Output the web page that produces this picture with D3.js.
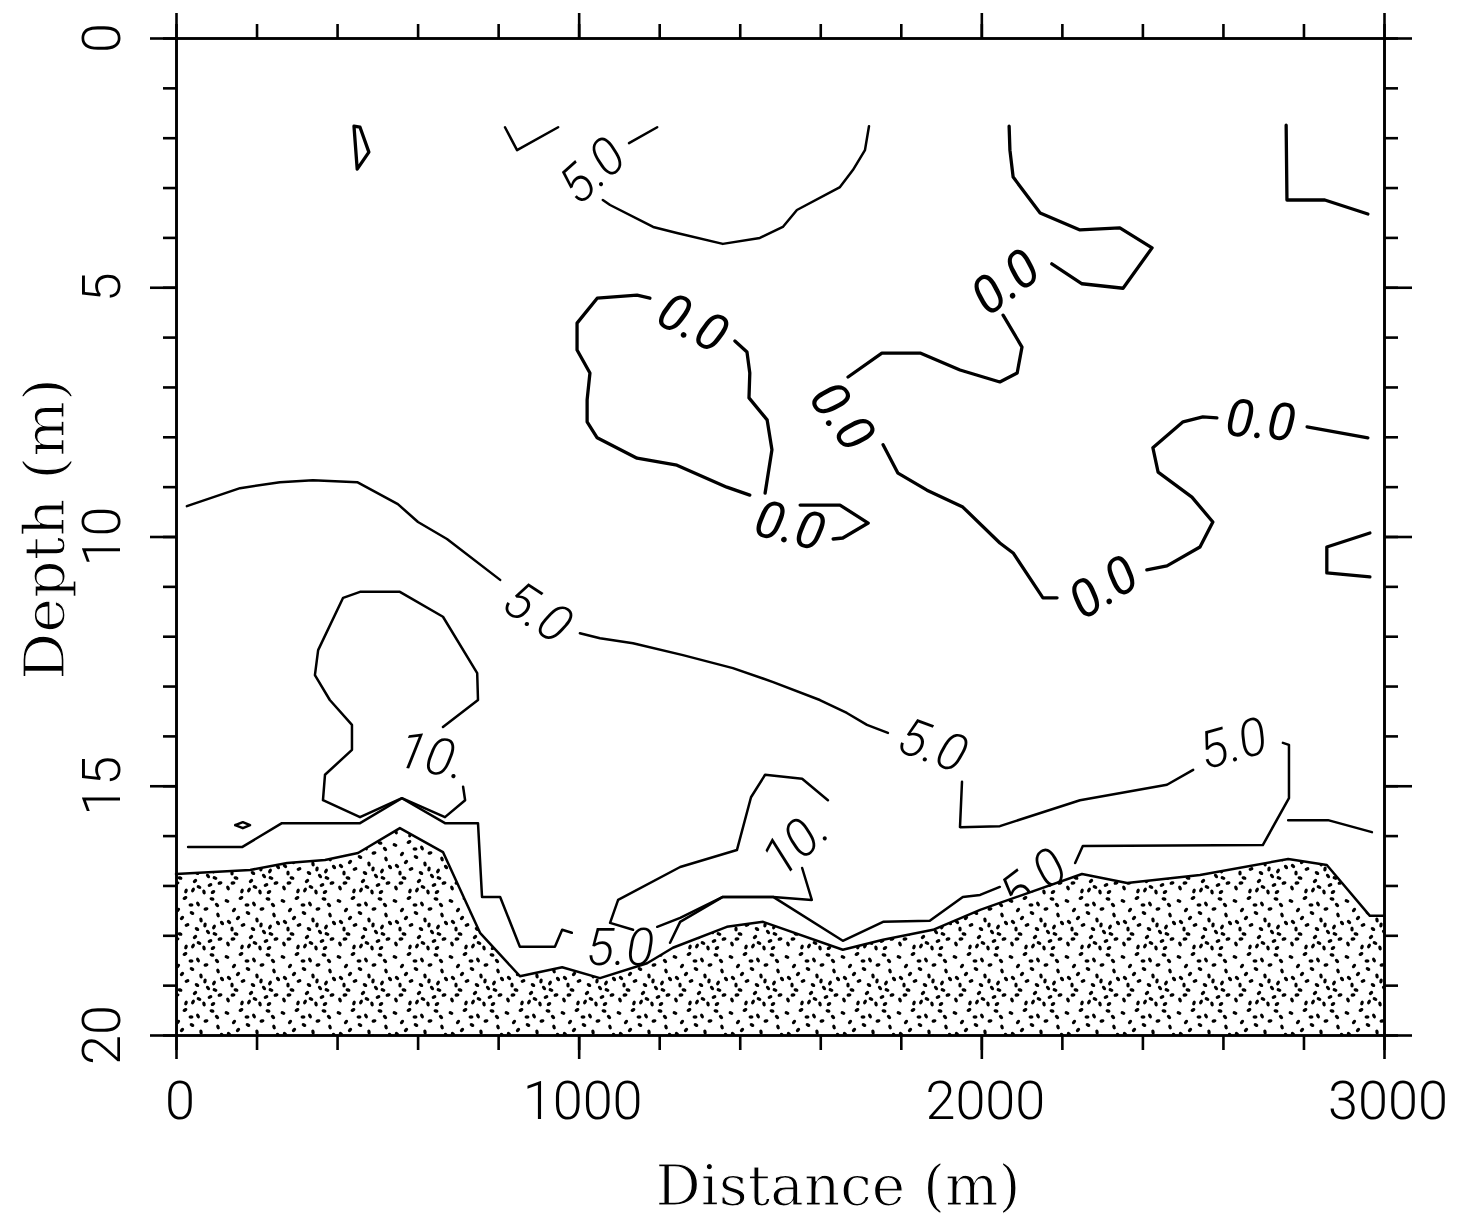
<!DOCTYPE html>
<html lang="en">
<head>
<meta charset="utf-8">
<title>Depth section</title>
<script src="https://d3js.org/d3.v7.min.js"></script>
<style>
body{margin:0;background:#fff;}
.axis path,.axis line{stroke:#000;stroke-width:2.6;}
.contour{fill:none;stroke:#000;stroke-linejoin:round;stroke-linecap:round;}
.tick-label{font-family:Roboto,"Liberation Sans",sans-serif;font-weight:300;font-size:54px;fill:#000;}
.title{font-family:"DejaVu Serif",serif;font-size:56px;fill:#000;stroke:#fff;stroke-width:1.2;}
.clabel{font-family:Roboto,"DejaVu Sans",sans-serif;font-style:italic;font-size:52px;fill:#000;}
</style>
</head>
<body>
<script>
// axis ticks
var xMajor = [0, 1000, 2000, 3000];
var xMinor = d3.range(0, 3001, 200);
var yMajor = [0, 5, 10, 15, 20];
var yMinor = d3.range(0, 21, 1);

// contour pieces, [distance (m), depth (m)]
var zeroLines = [
  [[442,1.77],[457,1.79],[479,2.29],[450,2.63],[442,1.77]],
  [[2069,1.77],[2071,2.25],[2079,2.79],[2146,3.51],[2245,3.85],[2344,3.81],[2424,4.21],[2352,5.02],[2250,4.93],[2175,4.53]],
  [[2054,5.56],[2101,6.20],[2089,6.72],[2046,6.90],[1947,6.66],[1848,6.32],[1753,6.32],[1669,6.80]],
  [[1756,8.16],[1793,8.73],[1865,9.07],[1954,9.41],[2046,10.13],[2079,10.33],[2153,11.23],[2188,11.23]],
  [[2411,10.67],[2461,10.59],[2543,10.21],[2575,9.71],[2523,9.21],[2439,8.71],[2426,8.22],[2501,7.70],[2550,7.60],[2585,7.62]],
  [[2809,7.80],[2960,8.02]],
  [[2757,1.75],[2759,3.25],[2853,3.25],[2960,3.53]],
  [[2965,9.93],[2858,10.21],[2858,10.73],[2965,10.81]],
  [[1177,5.22],[1145,5.16],[1046,5.22],[996,5.72],[996,6.26],[1028,6.72],[1021,7.26],[1021,7.70],[1046,8.02],[1145,8.43],[1244,8.57],[1368,9.01],[1425,9.17]],
  [[1388,6.08],[1418,6.30],[1425,6.72],[1423,7.22],[1468,7.66],[1480,8.26],[1463,9.13]],
  [[1550,9.37],[1649,9.37],[1719,9.73],[1656,10.03],[1632,10.05]]
];

var fiveLines = [
  [[817,1.79],[847,2.25],[949,1.79]],
  [[1195,1.79],[1125,2.11]],
  [[1060,3.25],[1078,3.35],[1185,3.79],[1244,3.91],[1358,4.13],[1450,4.01],[1507,3.79],[1542,3.45],[1649,2.99],[1681,2.65],[1711,2.25],[1721,1.77]],
  [[27,9.39],[159,9.03],[258,8.91],[340,8.87],[450,8.91],[551,9.35],[601,9.71],[673,10.05],[805,10.87]],
  [[1003,11.94],[1053,12.04],[1135,12.14],[1259,12.38],[1383,12.64],[1483,12.92],[1599,13.28],[1666,13.54],[1716,13.78],[1768,13.94]],
  [[1952,14.92],[1947,15.83],[2046,15.81],[2245,15.29],[2461,14.98],[2526,14.68]],
  [[2749,14.14],[2764,14.18],[2764,15.25],[2699,16.19],[2252,16.21],[2233,16.55]],
  [[2046,17.03],[1997,17.19],[1954,17.23],[1872,17.71],[1756,17.73],[1656,18.11],[1483,17.23],[1358,17.23],[1252,17.73],[1227,18.15]],
  [[983,17.95],[959,17.89],[941,18.23],[854,18.23],[805,17.23],[760,17.23],[750,15.75],[668,15.75],[561,15.25],[457,15.75],[263,15.75],[164,16.23],[30,16.23]],
  [[147,15.79],[166,15.73],[184,15.79],[166,15.85],[147,15.79]],
  [[2762,15.69],[2861,15.69],[2970,15.93]]
];

var tenLines = [
  [[713,15.02],[718,15.29],[668,15.63],[561,15.25],[457,15.63],[365,15.29],[370,14.78],[437,14.28],[437,13.78],[382,13.28],[345,12.78],[353,12.28],[415,11.23],[457,11.11],[556,11.11],[663,11.61],[748,12.74],[750,13.28],[663,13.82]],
  [[1135,17.89],[1078,17.75],[1098,17.29],[1252,16.63],[1393,16.29],[1428,15.23],[1463,14.78],[1555,14.86],[1619,15.29]],
  [[1555,16.65],[1579,17.29],[1483,17.23],[1358,17.23],[1252,17.65],[1195,17.83]]
];

// contour labels: distance, depth, angle, text
var labelDist  = [1033, 2059, 1656, 2302, 2694, 1284, 1525, 899, 1880, 2625, 2128, 1103, 636, 1537];
var labelDepth = [2.65, 4.89, 7.58, 11.01, 7.66, 5.70, 9.77, 11.51, 14.18, 14.14, 16.89, 18.23, 14.38, 16.15];
var labelAngle = [-42, -37, 54, -32, 5, 27, 14, 33, 20, -16, -37, 0, 12, -42];
var labelText  = ["5.0","0.0","0.0","0.0","0.0","0.0","0.0","5.0","5.0","5.0","5.0","5.0","10.","10."];

// bottom sediment outline
var bedDist  = [0, 184, 276, 370, 452, 556, 663, 755, 854, 959, 1053, 1170, 1234, 1368, 1458, 1656, 1756, 1880, 1997, 2046, 2250, 2362, 2543, 2762, 2858, 2965, 3000];
var bedDepth = [16.77, 16.69, 16.55, 16.49, 16.35, 15.85, 16.33, 17.95, 18.82, 18.64, 18.86, 18.56, 18.25, 17.83, 17.73, 18.29, 18.09, 17.89, 17.49, 17.35, 16.77, 16.95, 16.79, 16.47, 16.59, 17.61, 17.61];

var width = 1460;
var height = 1220;

var svg = d3.select("body")
  .append("svg")
  .attr("width", width)
  .attr("height", height);

var x = d3.scaleLinear().domain([0, 3000]).range([176, 1384]);
var y = d3.scaleLinear().domain([0, 20]).range([38, 1035]);

// stipple pattern for the bottom
var dots = [[3,5,20],[17,2,-30],[30,8,60],[44,3,10],[10,14,-50],[24,17,30],[38,13,-10],[50,19,70],
            [5,26,40],[19,29,-20],[33,24,80],[46,31,-60],[12,38,15],[27,41,-40],[40,36,50],[52,43,-15],
            [4,48,65],[18,51,-70],[31,47,25],[45,52,-35],[23,9,0],[8,33,90],[37,29,-80],[49,9,45],
            [14,22,-45],[29,33,35],[42,45,-25],[54,27,55],[9,43,-5],[36,52,75],[25,50,-60],[47,38,20]];
var pat = svg.append("defs").append("pattern")
  .attr("id", "sand")
  .attr("patternUnits", "userSpaceOnUse")
  .attr("width", 56)
  .attr("height", 56);
pat.append("rect").attr("width", 56).attr("height", 56).attr("fill", "#fff");
pat.selectAll("ellipse")
  .data(dots)
  .enter()
  .append("ellipse")
  .attr("cx", function(d){ return d[0]; })
  .attr("cy", function(d){ return d[1]; })
  .attr("rx", 2.5)
  .attr("ry", 1.7)
  .attr("transform", function(d){ return "rotate(" + d[2] + "," + d[0] + "," + d[1] + ")"; })
  .attr("fill", "#000");

var line = d3.line()
  .x(function(d){ return x(d[0]); })
  .y(function(d){ return y(d[1]); });

var contours = svg.append("g");

contours.selectAll("path.zero")
  .data(zeroLines)
  .enter()
  .append("path")
  .attr("class", "contour zero")
  .attr("stroke-width", 3.3)
  .attr("d", line);

contours.selectAll("path.five")
  .data(fiveLines)
  .enter()
  .append("path")
  .attr("class", "contour five")
  .attr("stroke-width", 2.5)
  .attr("d", line);

contours.selectAll("path.ten")
  .data(tenLines)
  .enter()
  .append("path")
  .attr("class", "contour ten")
  .attr("stroke-width", 2.5)
  .attr("d", line);

contours.selectAll("text")
  .data(labelText)
  .enter()
  .append("text")
  .attr("class", "clabel")
  .attr("font-weight", function(d){ return d == "0.0" ? 400 : 300; })
  .attr("text-anchor", "middle")
  .attr("dy", "0.35em")
  .attr("transform", function(d, i){
    return "translate(" + x(labelDist[i]) + "," + y(labelDepth[i]) + ") rotate(" + labelAngle[i] + ")";
  })
  .text(function(d){ return d; });

// sediment on top
var bed = bedDist.map(function(d, i){ return [d, bedDepth[i]]; });
var area = d3.area()
  .x(function(d){ return x(d[0]); })
  .y0(y(20))
  .y1(function(d){ return y(d[1]); });

svg.append("path")
  .datum(bed)
  .attr("fill", "url(#sand)")
  .attr("d", area);

svg.append("path")
  .datum(bed)
  .attr("class", "contour")
  .attr("stroke-width", 2.5)
  .attr("d", line);

// axes
function addAxis(axisFn, vals, size, tr){
  svg.append("g")
    .attr("class", "axis")
    .attr("transform", tr)
    .call(axisFn.tickValues(vals).tickSize(size).tickSizeOuter(0).tickFormat(""));
}
addAxis(d3.axisBottom(x), xMinor, 15, "translate(0," + y(20) + ")");
addAxis(d3.axisBottom(x), xMajor, 24, "translate(0," + y(20) + ")");
addAxis(d3.axisTop(x), xMinor, 14, "translate(0," + y(0) + ")");
addAxis(d3.axisTop(x), xMajor, 25, "translate(0," + y(0) + ")");
addAxis(d3.axisLeft(y), yMinor, 13, "translate(" + x(0) + ",0)");
addAxis(d3.axisLeft(y), yMajor, 26, "translate(" + x(0) + ",0)");
addAxis(d3.axisRight(y), yMinor, 14, "translate(" + x(3000) + ",0)");
addAxis(d3.axisRight(y), yMajor, 28, "translate(" + x(3000) + ",0)");

svg.selectAll("text.xt")
  .data(xMajor)
  .enter()
  .append("text")
  .attr("class", "tick-label xt")
  .attr("text-anchor", "middle")
  .attr("x", function(d){ return x(d) + 4; })
  .attr("y", 1119)
  .text(function(d){ return d; });

svg.selectAll("text.yt")
  .data(yMajor)
  .enter()
  .append("text")
  .attr("class", "tick-label yt")
  .attr("text-anchor", "middle")
  .attr("dy", "0.36em")
  .attr("transform", function(d){ return "translate(101," + y(d) + ") rotate(-90)"; })
  .text(function(d){ return d; });

svg.append("text")
  .attr("class", "title")
  .attr("text-anchor", "middle")
  .attr("x", 838)
  .attr("y", 1205)
  .attr("textLength", 365)
  .attr("lengthAdjust", "spacingAndGlyphs")
  .text("Distance (m)");

svg.append("text")
  .attr("class", "title")
  .attr("text-anchor", "middle")
  .attr("transform", "translate(64,529) rotate(-90)")
  .attr("textLength", 302)
  .attr("lengthAdjust", "spacingAndGlyphs")
  .text("Depth (m)");
</script>
</body>
</html>
